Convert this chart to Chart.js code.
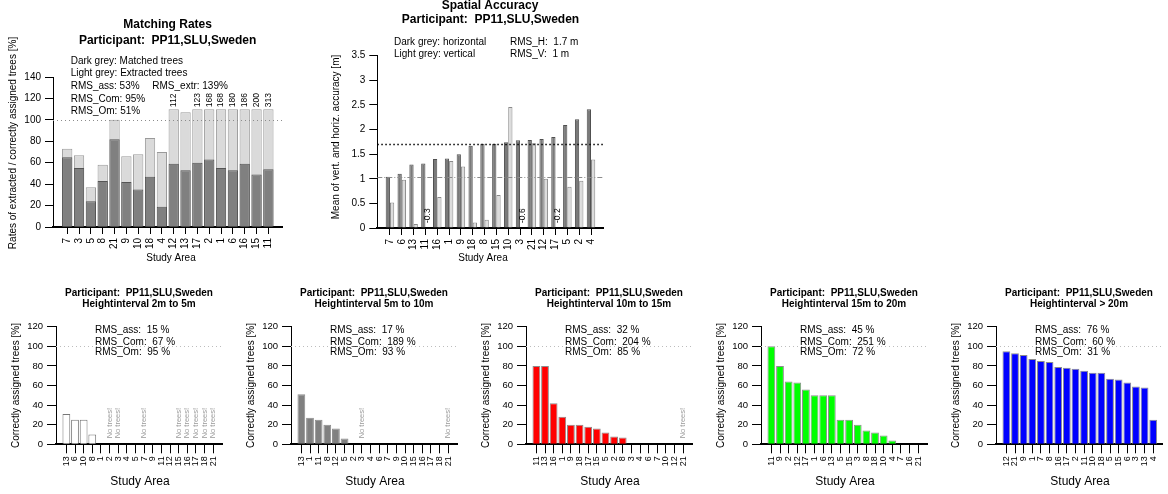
<!DOCTYPE html>
<html>
<head>
<meta charset="utf-8">
<title>PP11 SLU Sweden</title>
<script src="https://cdn.jsdelivr.net/npm/chart.js@4.4.1/dist/chart.umd.min.js"></script>
<style>
  html, body { margin: 0; padding: 0; background: #fff; }
  body { position: relative; width: 1168px; height: 494px; overflow: hidden; }
  canvas { position: absolute; }
</style>
</head>
<body>
<canvas id="matching" width="300" height="272" style="left:0;top:0"></canvas>
<canvas id="spatial" width="320" height="272" style="left:300px;top:0"></canvas>
<canvas id="h1" width="235" height="214" style="left:0;top:280px"></canvas>
<canvas id="h2" width="235" height="214" style="left:235px;top:280px"></canvas>
<canvas id="h3" width="235" height="214" style="left:470px;top:280px"></canvas>
<canvas id="h4" width="235" height="214" style="left:705px;top:280px"></canvas>
<canvas id="h5" width="228" height="214" style="left:940px;top:280px"></canvas>
<script>
const FONT = '"Liberation Sans", Arial, Helvetica, sans-serif';
const PARTICIPANT = 'Participant:  PP11,SLU,Sweden';

// Matching rates (top left)
const matchAreas = ['7', '3', '5', '8', '21', '9', '10', '18', '4', '12', '13', '17', '2', '1', '6', '16', '15', '11'];
const matchedTrees = [65, 55, 24, 43, 82, 42, 35, 47, 19, 59, 53, 60, 63, 55, 53, 59, 49, 54];
const extractedTrees = [73, 67, 37, 58, 100, 66, 68, 83, 70, 112, 107, 123, 168, 168, 180, 186, 200, 313];
const matchCap = 110; // extracted bars are cut here and labelled
const matchRms = ['RMS_ass: 53%', 'RMS_extr: 139%', 'RMS_Com: 95%', 'RMS_Om: 51%'];

// Spatial accuracy (top middle)
const accAreas = ['7', '6', '13', '11', '16', '1', '9', '18', '8', '15', '10', '3', '21', '12', '17', '5', '2', '4'];
const accHoriz = [1.04, 1.10, 1.29, 1.31, 1.40, 1.41, 1.50, 1.67, 1.71, 1.71, 1.74, 1.78, 1.79, 1.81, 1.85, 2.09, 2.21, 2.41];
const accVert = [0.52, 0.98, 0.08, -0.3, 0.63, 1.36, 1.25, 0.11, 0.17, 0.67, 2.46, -0.6, 1.72, 1.00, -0.2, 0.84, 0.96, 1.39];
const rmsH = 1.7;
const rmsV = 1.04;

// Height intervals (bottom row), null = no trees in that area
const heightTitles = ['Heightinterval 2m to 5m', 'Heightinterval 5m to 10m', 'Heightinterval 10m to 15m', 'Heightinterval 15m to 20m', 'Heightinterval > 20m'];
const h1Areas = ['13', '6', '10', '8', '1', '2', '3', '4', '5', '7', '9', '11', '12', '15', '16', '17', '18', '21'];
const h1Rates = [31, 25, 25, 10, 0, null, null, 0, 0, null, 0, 0, 0, null, null, null, null, null];
const h2Areas = ['13', '1', '11', '8', '12', '5', '2', '3', '4', '6', '7', '9', '10', '15', '16', '17', '18', '21'];
const h2Rates = [51, 27, 25, 20, 16, 6, 0, null, 0, 0, 0, 0, 0, 0, 0, 0, 0, null];
const h3Areas = ['11', '13', '16', '1', '9', '18', '17', '15', '5', '2', '8', '3', '4', '6', '7', '10', '12', '21'];
const h3Rates = [80, 80, 42, 28, 20, 20, 18, 16, 12, 8, 7, 0, 0, 0, 0, 0, 0, null];
const h4Areas = ['11', '9', '2', '12', '17', '1', '6', '13', '5', '15', '3', '8', '18', '10', '4', '7', '16', '21'];
const h4Rates = [100, 80, 64, 63, 56, 50, 50, 50, 25, 25, 20, 14, 12, 9, 4, 0, 0, 0];
const h5Areas = ['12', '21', '9', '1', '7', '8', '16', '17', '2', '11', '10', '18', '5', '15', '6', '3', '13', '4'];
const h5Rates = [95, 93, 91, 87, 85, 84, 79, 78, 77, 75, 73, 73, 67, 66, 63, 59, 58, 25];
const rmsAss = [15, 17, 32, 45, 76];
const rmsCom = [67, 189, 204, 251, 60];
const rmsOm = [95, 93, 85, 72, 31];
const heightColors = ['#ffffff', '#808080', '#ff0000', '#00ff00', '#0000ff'];

Chart.defaults.font.family = FONT;
Chart.defaults.color = '#000';

function drawText(ctx, t) {
  ctx.save();
  ctx.font = (t.bold ? 'bold ' : '') + t.size + 'px ' + FONT;
  ctx.fillStyle = t.color || '#000';
  ctx.textAlign = t.align || 'left';
  ctx.textBaseline = 'middle';
  ctx.translate(t.x, t.y);
  if (t.rot) ctx.rotate(t.rot);
  ctx.fillText(t.text, 0, 0);
  ctx.restore();
}

function hLine(chart, value, color, dash, width) {
  const ctx = chart.ctx;
  const py = Math.round(chart.scales.y.getPixelForValue(value)) + 0.5;
  ctx.save();
  ctx.strokeStyle = color;
  ctx.lineWidth = width;
  ctx.setLineDash(dash);
  ctx.beginPath();
  ctx.moveTo(chart.chartArea.left, py);
  ctx.lineTo(chart.chartArea.right, py);
  ctx.stroke();
  ctx.restore();
}

const UP = -Math.PI / 2;

function buildBars(id, o) {
  const cv = document.getElementById(id);
  const xAxisH = 40;
  return new Chart(cv, {
    type: 'bar',
    data: { datasets: o.datasets },
    options: {
      responsive: false,
      animation: false,
      events: [],
      layout: { padding: { left: 0, top: o.area.t, right: cv.width - o.area.r, bottom: cv.height - o.area.b - xAxisH } },
      plugins: { legend: { display: false }, tooltip: { enabled: false } },
      scales: {
        x: {
          type: 'linear',
          min: o.xMin,
          max: o.xMax,
          offset: false,
          afterBuildTicks: s => { s.ticks = o.names.map((n, i) => ({ value: i })); },
          afterFit: s => { s.height = xAxisH; s.paddingLeft = 0; s.paddingRight = 0; },
          grid: { drawOnChartArea: false, offset: false, tickLength: o.xTick, color: '#000' },
          border: { color: '#000', width: 2 },
          ticks: {
            autoSkip: false, minRotation: 90, maxRotation: 90, padding: o.xPad,
            font: { size: o.xFont }, callback: v => o.names[v]
          }
        },
        y: {
          min: 0,
          max: o.yMax,
          afterFit: s => { s.width = o.area.l; s.paddingTop = 0; s.paddingBottom = 0; },
          grid: { drawOnChartArea: false, tickLength: o.yTick, color: '#000' },
          border: { color: '#000', width: 1 },
          ticks: { stepSize: o.yStep, padding: 4, font: { size: o.yFont }, callback: v => String(v) }
        }
      }
    },
    plugins: [{
      id: 'decor',
      afterDatasetsDraw: o.onBars,
      afterDraw: chart => o.texts.forEach(t => drawText(chart.ctx, t))
    }]
  });
}

const pts = arr => arr.map((v, i) => ({ x: i, y: v }));

// ---- Matching rates
buildBars('matching', {
  area: { l: 53, t: 77, r: 282, b: 227 },
  xMin: -1.2, xMax: 18.15, names: matchAreas,
  yMax: 140, yStep: 20, xTick: 7, xPad: 4, yTick: 8, xFont: 10, yFont: 10,
  datasets: [
    {
      data: pts(matchedTrees), grouped: false, categoryPercentage: 1, barPercentage: 0.87,
      backgroundColor: '#808080', borderColor: '#555555', borderWidth: 1
    },
    {
      data: pts(extractedTrees.map(v => Math.min(v, matchCap))), grouped: false, categoryPercentage: 1, barPercentage: 0.87,
      backgroundColor: '#dadada', borderColor: '#9a9a9a', borderWidth: 1
    }
  ],
  onBars: chart => {
    hLine(chart, 100, '#8c8c8c', [1, 3], 1);
    const meta = chart.getDatasetMeta(1);
    const y0 = chart.scales.y.getPixelForValue(matchCap) - 2;
    extractedTrees.forEach((v, i) => {
      if (v > matchCap) drawText(chart.ctx, { text: String(v), x: meta.data[i].x, y: y0, size: 8.5, rot: UP });
    });
  },
  texts: [
    { text: 'Matching Rates', x: 167.6, y: 25, size: 12, bold: true, align: 'center' },
    { text: PARTICIPANT, x: 167.6, y: 40.7, size: 12, bold: true, align: 'center' },
    { text: 'Dark grey: Matched trees', x: 70.7, y: 61.7, size: 10 },
    { text: 'Light grey: Extracted trees', x: 70.7, y: 73.3, size: 10 },
    { text: matchRms[0], x: 70.7, y: 86, size: 10 },
    { text: matchRms[1], x: 152.3, y: 86, size: 10 },
    { text: matchRms[2], x: 70.7, y: 99, size: 10 },
    { text: matchRms[3], x: 70.7, y: 111.7, size: 10 },
    { text: 'Rates of extracted / correctly assigned trees [%]', x: 13.3, y: 143, size: 10, rot: UP, align: 'center' },
    { text: 'Study Area', x: 171, y: 258.3, size: 10, align: 'center' }
  ]
});

// ---- Spatial accuracy
buildBars('spatial', {
  area: { l: 77.3, t: 55.7, r: 303.3, b: 228 },
  xMin: -1.07, xMax: 18.04, names: accAreas,
  yMax: 3.5, yStep: 0.5, xTick: 7, xPad: 4, yTick: 8, xFont: 10, yFont: 10,
  datasets: [
    {
      data: pts(accHoriz), categoryPercentage: 0.72, barPercentage: 1,
      backgroundColor: '#7a7a7a', borderColor: '#505050', borderWidth: 1
    },
    {
      data: pts(accVert.map(v => (v < 0 ? null : v))), categoryPercentage: 0.72, barPercentage: 1,
      backgroundColor: '#dcdcdc', borderColor: '#8a8a8a', borderWidth: 1
    }
  ],
  onBars: chart => {
    hLine(chart, rmsH, '#000', [1.5, 2.5], 1.5);
    hLine(chart, rmsV, '#8c8c8c', [5, 2, 1, 2], 1);
    const meta = chart.getDatasetMeta(1);
    const y0 = chart.scales.y.getPixelForValue(0) - 5;
    accVert.forEach((v, i) => {
      if (v < 0) drawText(chart.ctx, { text: String(v), x: meta.data[i].x, y: y0, size: 8.5, rot: UP });
    });
  },
  texts: [
    { text: 'Spatial Accuracy', x: 190, y: 6, size: 12, bold: true, align: 'center' },
    { text: PARTICIPANT, x: 190.5, y: 19.5, size: 12, bold: true, align: 'center' },
    { text: 'Dark grey: horizontal', x: 94, y: 42.3, size: 10 },
    { text: 'Light grey: vertical', x: 94, y: 54, size: 10 },
    { text: 'RMS_H:  ' + rmsH + ' m', x: 210, y: 42.3, size: 10 },
    { text: 'RMS_V:  ' + (+rmsV.toFixed(1)) + ' m', x: 210, y: 54, size: 10 },
    { text: 'Mean of vert. and horiz. accuracy [m]', x: 36.7, y: 137, size: 10, rot: UP, align: 'center' },
    { text: 'Study Area', x: 183, y: 258.3, size: 10, align: 'center' }
  ]
});

// ---- Height intervals
const hAreas = [h1Areas, h2Areas, h3Areas, h4Areas, h5Areas];
const hRates = [h1Rates, h2Rates, h3Rates, h4Rates, h5Rates];
hRates.forEach((rates, k) => {
  buildBars('h' + (k + 1), {
    area: { l: 56, t: 46.7, r: 222.7, b: 164.3 },
    xMin: -1.2, xMax: 18.1, names: hAreas[k],
    yMax: 120, yStep: 20, xTick: 9, xPad: 3, yTick: 9, xFont: 9, yFont: 9.5,
    datasets: [{
      data: pts(rates), categoryPercentage: 1, barPercentage: 0.9,
      backgroundColor: heightColors[k], borderColor: k === 0 ? '#777777' : '#8c8c8c', borderWidth: 1
    }],
    onBars: chart => {
      hLine(chart, 100, '#bdbdbd', [1, 3], 1);
      const meta = chart.getDatasetMeta(0);
      const y0 = chart.scales.y.getPixelForValue(0) - 6;
      rates.forEach((v, i) => {
        if (v === null) drawText(chart.ctx, { text: 'No trees!', x: meta.data[i].x, y: y0, size: 7.5, color: '#999', rot: UP });
      });
    },
    texts: [
      { text: PARTICIPANT, x: 139, y: 13.3, size: 10, bold: true, align: 'center' },
      { text: heightTitles[k], x: 139, y: 24.3, size: 10, bold: true, align: 'center' },
      { text: 'RMS_ass:  ' + rmsAss[k] + ' %', x: 95, y: 50.7, size: 10 },
      { text: 'RMS_Com:  ' + rmsCom[k] + ' %', x: 95, y: 62, size: 10 },
      { text: 'RMS_Om:  ' + rmsOm[k] + ' %', x: 95, y: 72.7, size: 10 },
      { text: 'Correctly assigned trees [%]', x: 16, y: 105.5, size: 10, rot: UP, align: 'center' },
      { text: 'Study Area', x: 140, y: 201.7, size: 12, align: 'center' }
    ]
  });
});
</script>
</body>
</html>
